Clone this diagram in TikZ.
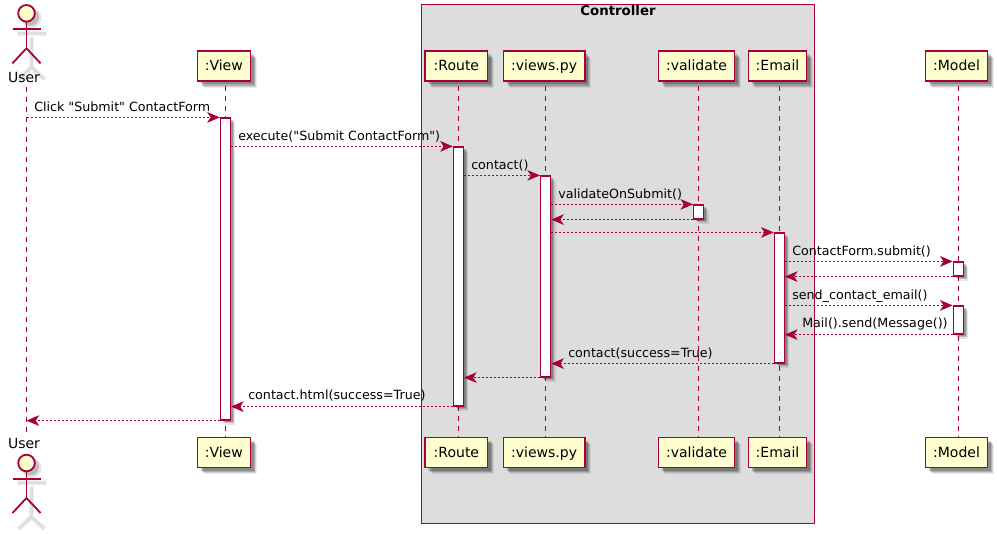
\documentclass[tikz,border=0pt]{standalone}
\usepackage{fontspec}
\newfontfamily\pf{DejaVu Sans}
\usetikzlibrary{arrows.meta,shadows}
\definecolor{pcrim}{HTML}{A80036}
\definecolor{pyel}{HTML}{FEFECE}
\definecolor{pbox}{HTML}{DDDDDD}
\newlength{\pxu}\setlength{\pxu}{0.75pt}
\tikzset{
  x=0.75pt,y=-0.75pt,
  softshadow/.style={
    general shadow={fill=black,opacity=.07,shadow xshift=6.5\pxu,shadow yshift=-6.5\pxu},
    general shadow={fill=black,opacity=.12,shadow xshift=5.5\pxu,shadow yshift=-5.5\pxu},
    general shadow={fill=black,opacity=.16,shadow xshift=4.5\pxu,shadow yshift=-4.5\pxu},
    general shadow={fill=black,opacity=.20,shadow xshift=3.2\pxu,shadow yshift=-3.2\pxu}},
  barshadow/.style={
    general shadow={fill=black,opacity=.10,shadow xshift=5\pxu,shadow yshift=-5\pxu},
    general shadow={fill=black,opacity=.18,shadow xshift=3.5\pxu,shadow yshift=-3.5\pxu},
    general shadow={fill=black,opacity=.20,shadow xshift=2.5\pxu,shadow yshift=-2.5\pxu}},
  headbox/.style={draw=pcrim,line width=1.5\pxu,fill=pyel,softshadow,inner sep=0pt,
    minimum height=30\pxu,text height=8.2pt,text depth=1pt,text=black,font=\pf\fontsize{10.5pt}{12pt}\selectfont},
  actorname/.style={inner sep=0pt,anchor=base,font=\pf\fontsize{10.5pt}{12pt}\selectfont},
  lifeline/.style={draw=pcrim,line width=1\pxu,dash pattern=on 5\pxu off 5\pxu},
  actbar/.style={draw=pcrim,line width=1.2\pxu,fill=white,barshadow,inner sep=0pt,minimum width=10\pxu},
  msg/.style={draw=pcrim,line width=1\pxu,dash pattern=on 2\pxu off 2\pxu,
    -{Stealth[length=9.5pt,width=8pt,inset=2.6pt,fill=pcrim]}},
  msglabel/.style={inner sep=0pt,anchor=base west,font=\pf\fontsize{9.5pt}{12pt}\selectfont},
  actorline/.style={draw=pcrim,line width=1.8\pxu},
  actorshade/.style={draw=black,opacity=.08,line width=2.5\pxu},
  actorshadewide/.style={draw=black,opacity=.06,line width=5\pxu},
  groupbox/.style={draw=pcrim,line width=1\pxu,fill=pbox,inner sep=0pt},
  grouptitle/.style={inner sep=0pt,anchor=base,font=\pf\fontsize{10pt}{12pt}\selectfont\bfseries},
}
\newcommand{\stickman}[3]{% name, x, y of head centre
  \begin{scope}[shift={(#2,#3)}]
    \draw[actorshadewide] (5,24) -- (5,54) (-9,20) -- (20,20) (5,54) -- (-8,66) (5,54) -- (18,66);
    \draw[actorshade] (5,24) -- (5,54) (-9,20) -- (20,20) (5,54) -- (-8,66) (5,54) -- (18,66);
    \fill[black,opacity=.10] (5,5) circle (10);
    \fill[black,opacity=.18] (4,4) circle (8.5);
    \node[circle,draw=pcrim,line width=1.8\pxu,fill=pyel,minimum size=16.6\pxu,inner sep=0pt] (#1) at (0,0) {};
    \draw[actorline] (#1.south) -- (0,35);
    \draw[actorline] (-14,16) -- (14,16);
    \draw[actorline] (0,35) -- (-14,50) (0,35) -- (14,50);
  \end{scope}}
\newcommand{\actbarnode}[4]{% name, x, y1, y2
  \node[actbar,minimum height={(#4-#3)*\pxu}] (#1) at (#2,{(#3+#4)/2}) {};}
\begin{document}
\begin{tikzpicture}
\useasboundingbox (0,0) rectangle (997,534);
% group
\node[groupbox,minimum width=393\pxu,minimum height=519\pxu] (ctrl) at (617.5,264.5) {};
\node[grouptitle] (ctrlt) at (618,16) {Controller};
% actors
\stickman{uh}{26.5}{13.3}
\stickman{uf}{26.5}{463}
\node[actorname] (ut) at (24,83) {User};
\node[actorname] (ub) at (24,449) {User};
% heads
\foreach \n/\x/\lx/\w/\t in {view/223.8/225.4/53/{:View},route/456.4/458.4/62.6/{:Route},vpy/544.1/545.4/81.6/{:views.py},val/696.5/698.7/76.4/{:validate},email/777.5/779.3/58.4/{:Email},model/956.5/958.3/61.6/{:Model}}{
  \node[headbox,minimum width=\w*\pxu] (\n T) at (\x,66.2) {\t};
  \node[headbox,minimum width=\w*\pxu] (\n B) at (\x,452.5) {\t};
  \coordinate (\n LT) at (\lx,86);
  \coordinate (\n LB) at (\lx,437);
}
% lifelines
\coordinate (ulT) at (26.5,87);
\coordinate (ulB) at (26.5,437);
\draw[lifeline] (ulT) -- (ulB);
\foreach \n in {view,route,vpy,val,email,model}{
  \draw[lifeline] (\n LT) -- (\n LB);
}
% activation bars
\actbarnode{bview}{225.4}{118}{420}
\actbarnode{broute}{458.4}{147}{406}
\actbarnode{bvpy}{545.6}{176}{377}
\actbarnode{bval}{698.7}{205}{219}
\actbarnode{bemail}{779.3}{233}{363}
\actbarnode{bm}{958.3}{262}{276}
\actbarnode{bn}{958.3}{306}{334}
% messages
\draw[msg] (ulT |- bview.north) -- (bview.north west);
\draw[msg] (bview.east |- broute.north) -- (broute.north west);
\draw[msg] (broute.east |- bvpy.north) -- (bvpy.north west);
\draw[msg] (bvpy.east |- bval.north) -- (bval.north west);
\draw[msg] (bval.south west) -- (bvpy.east |- bval.south);
\draw[msg] (bvpy.east |- bemail.north) -- (bemail.north west);
\draw[msg] (bemail.east |- bm.north) -- (bm.north west);
\draw[msg] (bm.south west) -- (bemail.east |- bm.south);
\draw[msg] (bemail.east |- bn.north) -- (bn.north west);
\draw[msg] (bn.south west) -- (bemail.east |- bn.south);
\draw[msg] (bemail.south west) -- (bvpy.east |- bemail.south);
\draw[msg] (bvpy.south west) -- (broute.east |- bvpy.south);
\draw[msg] (broute.south west) -- (bview.east |- broute.south);
\draw[msg] (bview.south west) -- (ulT |- bview.south);
% labels
\node[msglabel] (l1) at (34,112) {Click "Submit" ContactForm};
\node[msglabel] (l2) at (238,141) {execute("Submit ContactForm")};
\node[msglabel] (l3) at (471,170) {contact()};
\node[msglabel] (l4) at (558,199) {validateOnSubmit()};
\node[msglabel] (l5) at (792,256) {ContactForm.submit()};
\node[msglabel] (l6) at (792,300) {send\_contact\_email()};
\node[msglabel] (l7) at (802,328) {Mail().send(Message())};
\node[msglabel] (l8) at (568,358) {contact(success=True)};
\node[msglabel] (l9) at (248,400) {contact.html(success=True)};
\end{tikzpicture}
\end{document}
